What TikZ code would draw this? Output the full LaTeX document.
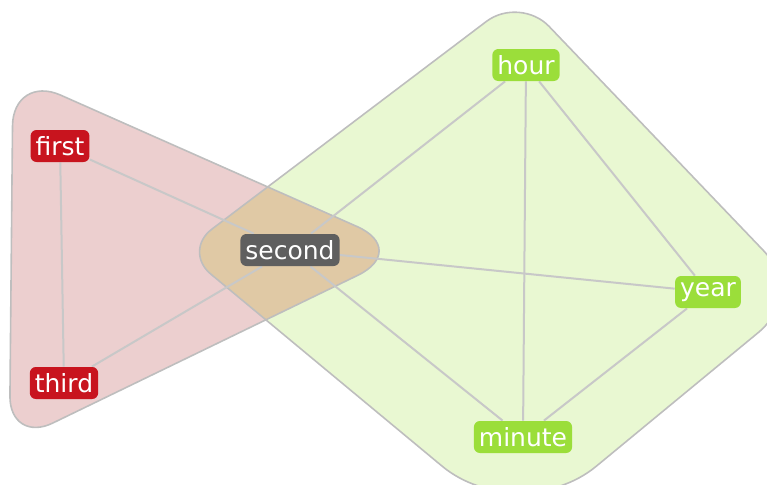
\documentclass[tikz,border=0pt]{standalone}
\usepackage{fontspec}
\setmainfont{DejaVu Sans}
\usetikzlibrary{calc,backgrounds}

\definecolor{hullred}{RGB}{236,207,207}
\definecolor{hullgreen}{RGB}{233,248,210}
\definecolor{hullboth}{RGB}{224,201,165}
\definecolor{hullline}{RGB}{190,190,190}
\definecolor{linkgray}{RGB}{200,200,200}
\definecolor{nodered}{RGB}{200,20,30}
\definecolor{nodegray}{RGB}{95,95,95}
\definecolor{nodegreen}{RGB}{155,222,58}

\tikzset{
  word/.style={rounded corners=3pt, text=white, inner xsep=2.5pt, inner ysep=0pt,
    minimum height=16pt, font=\fontsize{12.5}{14}\selectfont},
  redword/.style={word, fill=nodered},
  grayword/.style={word, fill=nodegray},
  greenword/.style={word, fill=nodegreen},
  link/.style={draw=linkgray, line width=1pt},
  hull/.style={draw=hullline, line width=0.8pt},
}

% rounded corner of a hull: from, vertex, to, radius
\newcommand{\hcorner}[4]{-- ($(#2)!#4!(#1)$)
  .. controls ($(#2)!{0.45*#4}!(#1)$) and ($(#2)!{0.45*#4}!(#3)$) .. ($(#2)!#4!(#3)$)}
\newcommand{\greenhull}{($(GL)!0.5!(GT)$) \hcorner{GL}{GT}{GR}{21pt}
  \hcorner{GT}{GR}{GB}{30pt} \hcorner{GR}{GB}{GL}{50pt} \hcorner{GB}{GL}{GT}{18pt} -- cycle}
\newcommand{\redhull}{($(RL)!0.5!(RT)$) \hcorner{RL}{RT}{RR}{26pt}
  \hcorner{RT}{RR}{RL}{29pt} \hcorner{RR}{RL}{RT}{24pt} -- cycle}

\begin{document}
\begin{tikzpicture}[x=0.5pt, y=-0.5pt]
    \useasboundingbox (0,0) rectangle (767,484);

    % corners of the two hulls
    \coordinate (GL) at (183,251);
    \coordinate (GT) at (520,-4);
    \coordinate (GR) at (805,294);
    \coordinate (GB) at (519,530);
    \coordinate (RT) at (13,74);
    \coordinate (RR) at (410,250);
    \coordinate (RL) at (9.5,444);

    % words
    \node[redword] (first) at (60,146) {first};
    \node[redword] (third) at (64,383) {third};
    \node[grayword] (second) at (290,250) {second};
    \node[greenword] (hour) at (526,65) {hour};
    \node[greenword] (year) at (708,292) {year};
    \node[greenword] (minute) at (523,437) {minute};

    \begin{pgfonlayer}{background}
        % hulls
        \fill[hullgreen] \greenhull;
        \fill[hullred] \redhull;
        \begin{scope}
            \clip \redhull;
            \fill[hullboth] \greenhull;
        \end{scope}
        \draw[hull] \greenhull;
        \draw[hull] \redhull;

        % links
        \draw[link] (first) -- (third);
        \draw[link] (first) -- (second);
        \draw[link] (third) -- (second);
        \draw[link] (second) -- (hour);
        \draw[link] (second) -- (year);
        \draw[link] (second) -- (minute);
        \draw[link] (hour) -- (minute);
        \draw[link] (hour) -- (year);
        \draw[link] (year) -- (minute);
    \end{pgfonlayer}
\end{tikzpicture}
\end{document}
